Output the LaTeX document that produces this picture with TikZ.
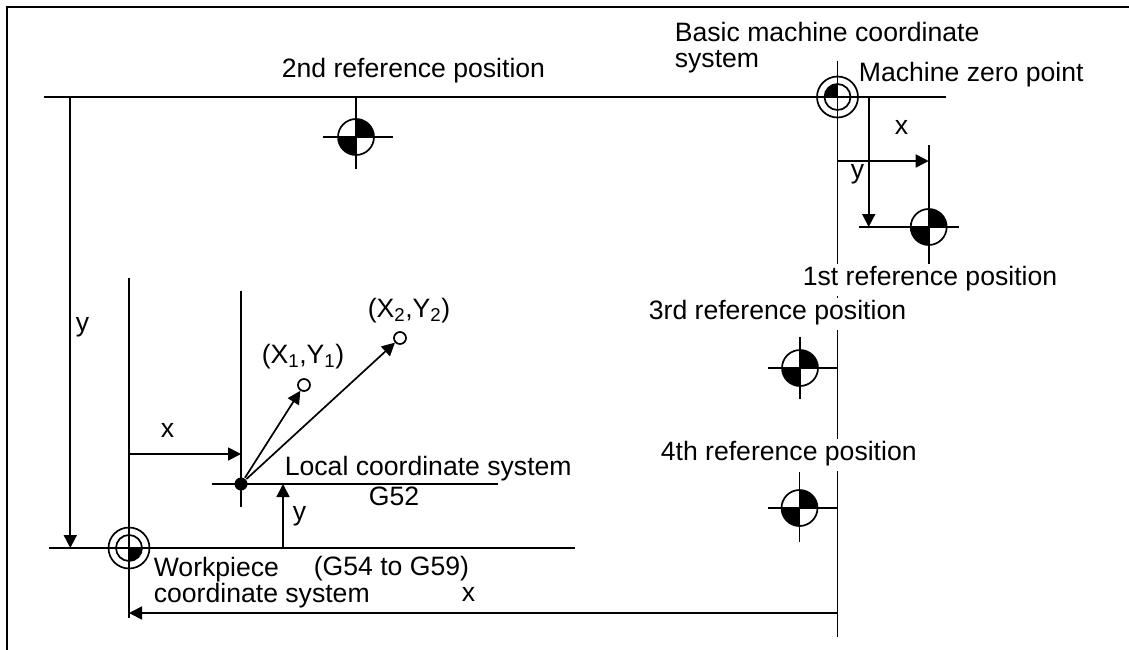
\documentclass[tikz,border=0pt]{standalone}
\usepackage{fontspec}
\setmainfont{Liberation Sans}
\usepackage{tikz}
\usetikzlibrary{arrows.meta}
\begin{document}
\begin{tikzpicture}[
      x=1pt, y=-1pt,
      line width=1.7pt,
      arr/.style={-{Triangle[length=13pt,width=13pt]}},
      lbl/.style={anchor=base west, inner sep=0pt, font=\fontsize{26.6}{26}\selectfont, align=left},
      mask/.style={lbl, fill=white, text height=21pt, text depth=11pt},
      refmark/.style={circle, draw, minimum size=36pt, inner sep=0pt,
        path picture={
          \fill (path picture bounding box.center) rectangle (path picture bounding box.north east);
          \fill (path picture bounding box.center) rectangle (path picture bounding box.south west);}},
      zerotl/.style={circle, draw, minimum size=26pt, inner sep=0pt,
        path picture={\fill (path picture bounding box.center) rectangle (path picture bounding box.north west);}},
      zerobr/.style={circle, draw, minimum size=26pt, inner sep=0pt,
        path picture={\fill (path picture bounding box.center) rectangle (path picture bounding box.south east);}},
      outer/.style={circle, draw, minimum size=41pt, inner sep=0pt},
      target/.style={circle, draw, fill=white, minimum size=12pt, inner sep=0pt}
    ]
      \useasboundingbox (0,0) rectangle (1129,650);
      % frame
      \coordinate (ftop) at (1129,7.5);
      \coordinate (fcorner) at (6.5,7.5);
      \coordinate (fbot) at (6.5,650);
      \draw[line width=2pt] (ftop) -- (fcorner) -- (fbot);
      % axes
      \coordinate (mleft) at (44,97);
      \coordinate (mright) at (946,97);
      \coordinate (mtop) at (837.5,61);
      \coordinate (mbot) at (837.5,636.5);
      \coordinate (wleft) at (49,548);
      \coordinate (wright) at (575,548);
      \coordinate (wtop) at (129,278);
      \coordinate (wbot) at (129,618);
      \coordinate (ltop) at (241,291);
      \coordinate (lbot) at (241,507);
      \coordinate (lleft) at (212,484);
      \coordinate (lright) at (498,484);
      \draw (mleft) -- (mright);
      \draw (mtop) -- (mbot);
      \draw (wleft) -- (wright);
      \draw (wtop) -- (wbot);
      \draw (ltop) -- (lbot);
      \draw (lleft) -- (lright);
      % zero points
      \node[outer] (mzo) at (837.5,97) {};
      \node[zerotl] (mzi) at (837.5,97) {};
      \node[outer] (wzo) at (129,548) {};
      \node[zerobr] (wzi) at (129,548) {};
      \node[circle, fill, minimum size=13pt, inner sep=0pt] (ldot) at (241,484) {};
      % reference positions
      \node[refmark] (ref1) at (928.7,227) {};
      \node[refmark] (ref2) at (356,137) {};
      \node[refmark] (ref3) at (800,368) {};
      \node[refmark] (ref4) at (799.5,508) {};
      \coordinate (r1l) at (859,227);
      \coordinate (r1r) at (959,227);
      \coordinate (r1t) at (928.7,145);
      \coordinate (r1b) at (928.7,264);
      \draw (r1l) -- (r1r);
      \draw (r1t) -- (r1b);
      \coordinate (r2l) at (323,137);
      \coordinate (r2r) at (393,137);
      \coordinate (r2t) at (356,97);
      \coordinate (r2b) at (356,169);
      \draw (r2l) -- (r2r);
      \draw (r2t) -- (r2b);
      \coordinate (r3l) at (768,368);
      \coordinate (r3r) at (837.5,368);
      \coordinate (r3t) at (800,337);
      \coordinate (r3b) at (800,399);
      \draw (r3l) -- (r3r);
      \draw (r3t) -- (r3b);
      \coordinate (r4l) at (768,508);
      \coordinate (r4r) at (837.5,508);
      \coordinate (r4t) at (799.5,472);
      \coordinate (r4b) at (799.5,542);
      \draw (r4l) -- (r4r);
      \draw (r4t) -- (r4b);
      % dimension arrows
      \coordinate (a1) at (837.5,161);
      \coordinate (a2) at (928.7,161);
      \draw[arr] (a1) -- (a2);
      \coordinate (a3) at (868.7,97);
      \coordinate (a4) at (868.7,227);
      \draw[arr] (a3) -- (a4);
      \coordinate (a5) at (70.3,97);
      \coordinate (a6) at (70.3,548);
      \draw[arr] (a5) -- (a6);
      \coordinate (a7) at (129,454);
      \coordinate (a8) at (241,454);
      \draw[arr] (a7) -- (a8);
      \coordinate (a9) at (283,548);
      \coordinate (a10) at (283,484);
      \draw[arr] (a9) -- (a10);
      \coordinate (a11) at (837.5,613);
      \coordinate (a12) at (129,613);
      \draw[arr] (a11) -- (a12);
      % programmed points
      \node[target] (p1) at (304,385) {};
      \node[target] (p2) at (400,338) {};
      \draw[arr] (ldot) -- (p1);
      \draw[arr] (ldot) -- (p2);
      % labels
      \node[lbl] (tbasic) at (674,68) {Basic machine coordinate\\system};
      \node[lbl] (tzero) at (858,82) {Machine zero point};
      \node[lbl] (tsecond) at (281,78) {2nd reference position};
      \node[lbl] (tx1) at (894,135) {x};
      \node[lbl] (ty1) at (850,178) {y};
      \node[mask] (tfirst) at (802,285) {1st reference position};
      \node[mask] (tthird) at (648,319) {3rd reference position};
      \node[mask] (tfourth) at (660,460) {4th reference position};
      \node[lbl] (tp2) at (367,317) {(X\textsubscript{2},Y\textsubscript{2})};
      \node[lbl] (tp1) at (261,363) {(X\textsubscript{1},Y\textsubscript{1})};
      \node[lbl] (ty2) at (75,331) {y};
      \node[lbl] (tx2) at (160,437) {x};
      \node[lbl] (tlocal) at (284,475) {Local coordinate system};
      \node[lbl] (tg52) at (368,505) {G52};
      \node[lbl] (ty3) at (292,520) {y};
      \node[lbl] (twork) at (153,602) {Workpiece\\coordinate system};
      \node[lbl] (tg54) at (313,575) {(G54 to G59)};
      \node[lbl] (tx3) at (461,601) {x};
    \end{tikzpicture}
\end{document}
